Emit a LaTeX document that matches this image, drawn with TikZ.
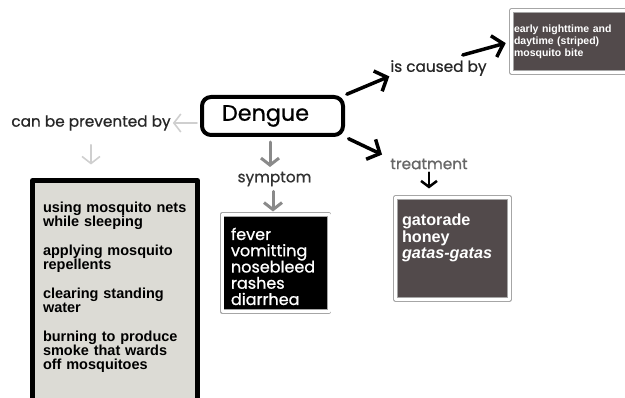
\documentclass[tikz,border=0pt]{standalone}
\usepackage{fontspec}
\setmainfont{Liberation Sans}
\newfontfamily\roundfont[FakeBold=0.8]{Poppins}
\usetikzlibrary{
  positioning,
  arrows.meta
}
\definecolor{paleback}{HTML}{DCDBD5}
\definecolor{darkback}{HTML}{524A4B}
\definecolor{palearrow}{HTML}{CFCFCF}
\definecolor{midarrow}{HTML}{8A8A8A}

\begin{document}
\begin{tikzpicture}[
    x=1pt, y=-1pt, line cap=round, line join=round,
    lbl/.style={
      inner sep=0pt,
      text=black!85,
      font=\roundfont\fontsize{15.3}{17}\selectfont
    },
    framed/.style={
      draw=black!35,
      double=white,
      double distance=3pt,
      line width=0.7pt
    },
    listbox/.style={
      anchor=north west,
      outer sep=0pt,
      inner ysep=0pt,
      align=left
    },
    palelink/.style={palearrow, line width=1.6pt, -{Straight Barb[length=7pt,width=18pt]}},
    greylink/.style={midarrow, line width=3pt, -{Straight Barb[length=7pt,width=18pt]}},
    blacklink/.style={black, line width=3.5pt, -{Straight Barb[length=10pt,width=22pt]}}
  ]
  \clip (0,0) rectangle (625,398);
  \useasboundingbox (0,0) rectangle (625,398);

  \node[draw=black, line width=4pt, rounded corners=9pt,
    text width=101pt, inner xsep=20pt, align=left, minimum height=38pt,
    font=\roundfont\fontsize{22.3}{24}\selectfont] (dengue) at (272.5,116) {Dengue};

  \node[lbl] (prevented) at (91,123) {can be prevented by};
  \node[lbl, text=black!80] (symptomlbl) at (274.5,179) {symptom};
  \node[lbl] (caused) at (438.5,68) {is caused by};
  \node[lbl, text=black!60] (treatlbl) at (429,164) {treatment};

  \node[listbox, draw=black, line width=5pt, fill=paleback,
    text width=144pt, inner xsep=10.5pt, text height=32.5pt, text depth=220pt,
    font=\bfseries\fontsize{14.5}{14}\selectfont] (prevention) at (32.5,180.5)
    {using mosquito nets\\while sleeping\\[15pt]
     applying mosquito\\repellents\\[15pt]
     clearing standing\\water\\[15pt]
     burning to produce\\smoke that wards\\off mosquitoes};

  \node[listbox, framed, fill=black, text=white,
    text width=89pt, inner xsep=9pt, text height=25.5pt, text depth=71.5pt,
    font=\roundfont\fontsize{16}{16.25}\selectfont] (symptoms) at (222,214.5)
    {fever\\vomitting\\nosebleed\\rashes\\diarrhea};

  \node[listbox, framed, fill=darkback, text=white,
    text width=130pt, inner xsep=2.5pt, text height=22.5pt, text depth=39.5pt,
    font=\bfseries\fontsize{10.5}{12}\selectfont] (cause) at (511.5,10.5)
    {early nighttime and\\daytime (striped)\\mosquito bite};

  \node[listbox, framed, fill=darkback, text=white,
    text width=101pt, inner xsep=6.5pt, text height=28.5pt, text depth=73.5pt,
    font=\bfseries\fontsize{16.2}{16.5}\selectfont] (treatment) at (395.5,197.5)
    {gatorade\\honey\\\textit{gatas-gatas}};

  \draw[palelink, shorten <=3pt, shorten >=2pt] (prevented.east -| dengue.west) -- (prevented.east);
  \draw[palelink, shorten <=14pt, shorten >=16pt] (prevented.south) -- (prevented.south |- prevention.north);

  \draw[greylink, shorten <=5pt, shorten >=6pt] (dengue.south) ++(-2.5,0) -- (270,173);
  \draw[greylink, shorten <=5pt, shorten >=3pt] (symptomlbl.south) ++(-1.5,0) coordinate (symtail) -- (symtail |- symptoms.north);

  \draw[blacklink, shorten <=2pt, shorten >=1pt] (dengue.north east) -- (caused.south west);
  \draw[blacklink, shorten >=6pt] ([xshift=-24pt,yshift=5pt]caused.north east) -- (cause.west);

  \draw[blacklink, shorten <=4pt, shorten >=9pt] (dengue.south east) -- (treatlbl.north west);
  \draw[blacklink, line width=2.5pt, -{Straight Barb[length=6pt,width=16pt]}, shorten <=3pt, shorten >=9pt]
    (treatlbl.south) -- (treatlbl.south |- treatment.north);
\end{tikzpicture}
\end{document}
